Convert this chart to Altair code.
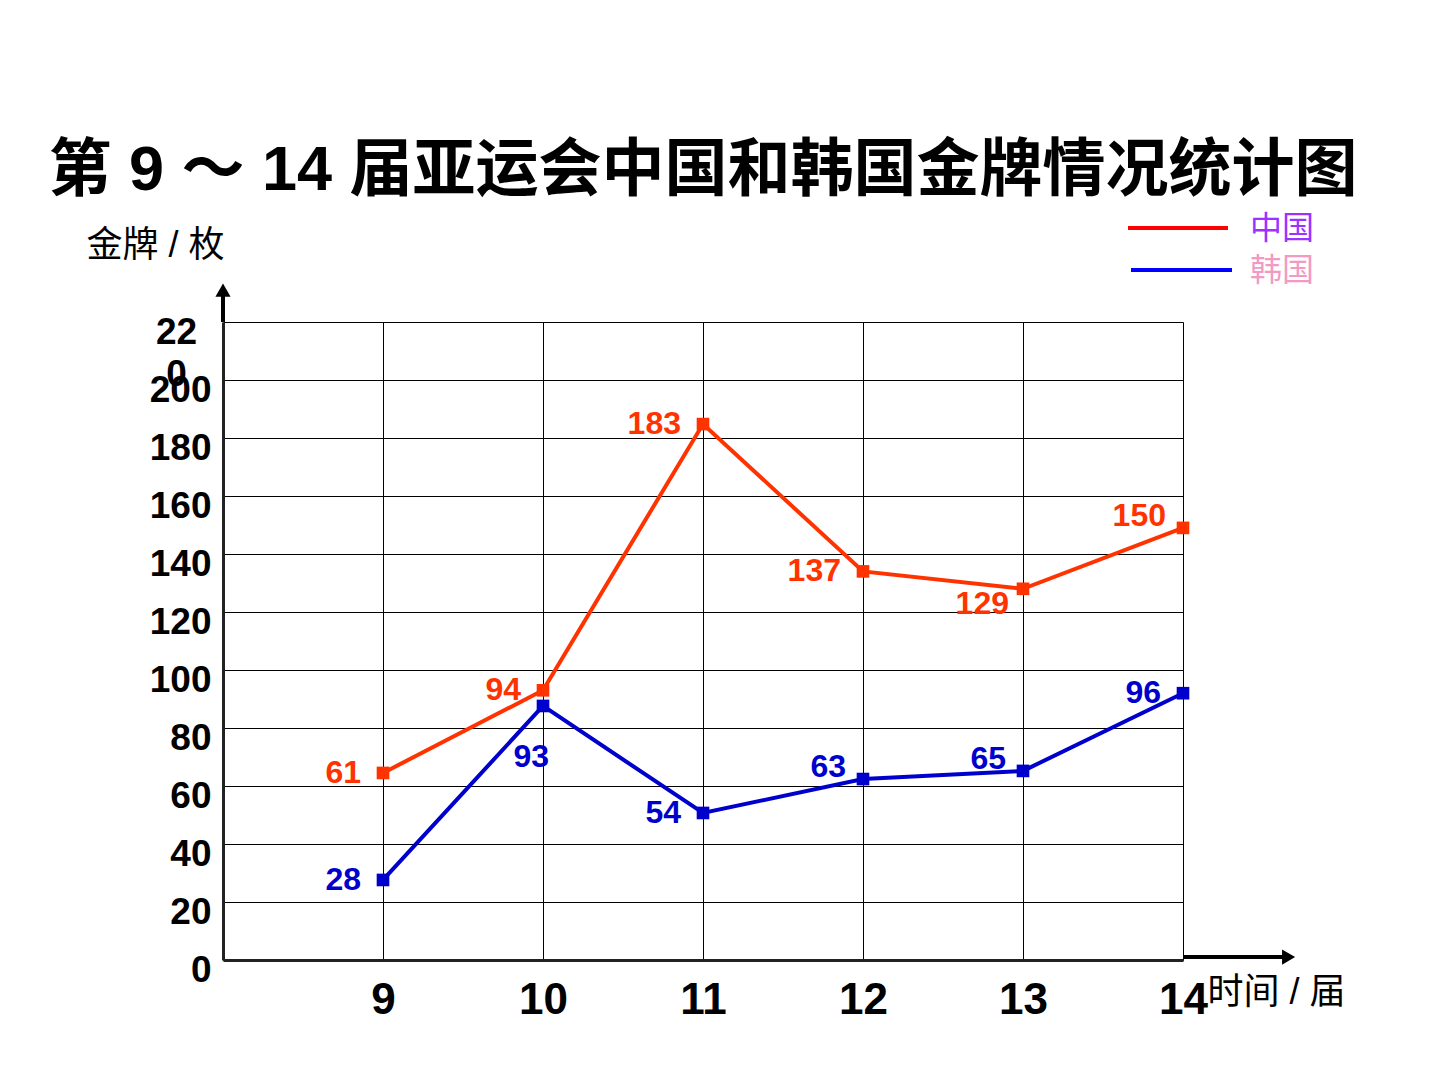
import altair as alt
import pandas as pd

# ---------------- data ----------------
sessions = [9, 10, 11, 12, 13, 14]
series_names = ["中国", "韩国"]
# marker heights as drawn on the grid
china_values = [64.5, 93, 184.8, 134, 128, 149]
korea_values = [27.6, 87.6, 50.7, 62.4, 65.2, 92]
# printed labels
china_labels = ["61", "94", "183", "137", "129", "150"]
korea_labels = ["28", "93", "54", "63", "65", "96"]
# where each label sits relative to its marker
china_label_side = ["left", "left", "left", "left", "lower", "upper"]
korea_label_side = ["left", "below", "left", "upper", "upper", "left"]
y_ticks = list(range(0, 221, 20))

title_text = "第 9 ～ 14 届亚运会中国和韩国金牌情况统计图"
y_title = "金牌 / 枚"
x_title = "时间 / 届"

series_colors = ["#FF3300", "#0000CC"]
legend_line_colors = ["#FF0000", "#0000FF"]
legend_text_colors = ["#9933FF", "#F29AC4"]

rows = []
for s, vals, labs, sides in [
    ("中国", china_values, china_labels, china_label_side),
    ("韩国", korea_values, korea_labels, korea_label_side),
]:
    for x, v, l, sd in zip(sessions, vals, labs, sides):
        rows.append({"session": x, "value": v, "label": l, "side": sd, "series": s})
df = pd.DataFrame(rows)

W, H = 960, 638
LATIN = "Liberation Sans"
CJK = "Noto Sans CJK SC"
MIXED = "Liberation Sans, Noto Sans CJK SC"

x_scale = alt.Scale(domain=[8, 14], nice=False, zero=False)
y_scale = alt.Scale(domain=[0, 220], nice=False, zero=True)
color_scale = alt.Scale(domain=series_names, range=series_colors)

x_axis = alt.Axis(
    values=sessions, format="d", grid=True, gridColor="black", gridWidth=1,
    domainColor="#222222", domainWidth=3, ticks=False,
    labelFont=LATIN, labelFontSize=44, labelFontWeight="bold", labelColor="black",
    labelPadding=18, labelFlush=False, labelOverlap=False,
    title=x_title, titleFont=MIXED, titleFontSize=36, titleFontWeight="normal",
    titleColor="black", titleX=984, titleY=32, titleAlign="left",
    titleBaseline="middle", titleAngle=0,
)
y_axis = alt.Axis(
    values=y_ticks, grid=True, gridColor="black", gridWidth=1,
    domainColor="#222222", domainWidth=3, ticks=False,
    labelFont=LATIN, labelFontSize=37, labelFontWeight="bold", labelColor="black",
    labelBaseline="top", labelOffset=-8, labelLineHeight=42,
    labelAlign={"condition": {"test": "datum.value == 220", "value": "center"}, "value": "right"},
    labelPadding={"condition": {"test": "datum.value == 220", "value": 47}, "value": 12},
    labelExpr="datum.value == 220 ? ['22', '0'] : datum.label",
    labelFlush=False, labelOverlap=False,
    title=y_title, titleFont=MIXED, titleFontSize=36, titleFontWeight="normal",
    titleColor="black", titleAngle=0, titleX=-137, titleY=-77,
    titleAlign="left", titleBaseline="middle",
)

base = alt.Chart(df)
X = alt.X("session:Q", scale=x_scale, axis=x_axis)
Y = alt.Y("value:Q", scale=y_scale, axis=y_axis)
C = alt.Color("series:N", scale=color_scale, legend=None)

lines = base.mark_line(strokeWidth=4).encode(x=X, y=Y, color=C, detail="series:N")
points = base.mark_square(size=160, opacity=1).encode(x=X, y=Y, color=C)

placements = {"left": (-22, 0), "lower": (-14, 15), "upper": (-17, -12), "below": (6, 51)}
label_layers = []
for side, (dx, dy) in placements.items():
    label_layers.append(
        base.transform_filter(alt.datum.side == side)
        .mark_text(align="right", baseline="middle", dx=dx, dy=dy,
                   font=LATIN, fontSize=32, fontWeight="bold")
        .encode(x=X, y=Y, text="label:N", color=C)
    )

one = alt.Chart(pd.DataFrame({"k": [0]}))
# axis arrows
y_arrow = one.mark_rule(color="black", strokeWidth=4).encode(
    x=alt.datum(8), y=alt.datum(220), y2=alt.datum(229))
y_head = one.mark_point(shape="triangle-up", size=230, filled=True, opacity=1,
                        color="black").encode(x=alt.datum(8), y=alt.datum(231))
x_arrow = one.mark_rule(color="black", strokeWidth=4).encode(
    x=alt.datum(14), x2=alt.datum(14.63), y=alt.datum(1))
x_head = one.mark_point(shape="triangle-right", size=230, filled=True, opacity=1,
                        color="black").encode(x=alt.datum(14.66), y=alt.datum(1))

# legend drawn by hand
legend_layers = []
for i, name in enumerate(series_names):
    yy = -94 + i * 42
    legend_layers.append(
        one.mark_rule(color=legend_line_colors[i], strokeWidth=4).encode(
            x=alt.value(905 + i * 3), x2=alt.value(1005 + i * 4), y=alt.value(yy))
    )
    legend_layers.append(
        one.mark_text(text=name, align="left", baseline="middle", font=CJK,
                      fontSize=32, color=legend_text_colors[i]).encode(
            x=alt.value(1027), y=alt.value(yy + 1))
    )

chart = alt.layer(
    lines, points, *label_layers, y_arrow, y_head, x_arrow, x_head, *legend_layers
).properties(
    width=W, height=H,
    autosize=alt.AutoSizeParams(type="none"),
    padding={"left": 223, "top": 322, "right": 257, "bottom": 120},
    title=alt.TitleParams(
        title_text, anchor="middle", frame="group", orient="top", offset=122,
        baseline="bottom", dy=175, font=MIXED, fontSize=63, fontWeight="bold",
        color="black",
    ),
).configure_view(stroke="black", strokeWidth=2).configure(background="white")

chart.save("out.html", embed_options={"renderer": "svg", "actions": False})
